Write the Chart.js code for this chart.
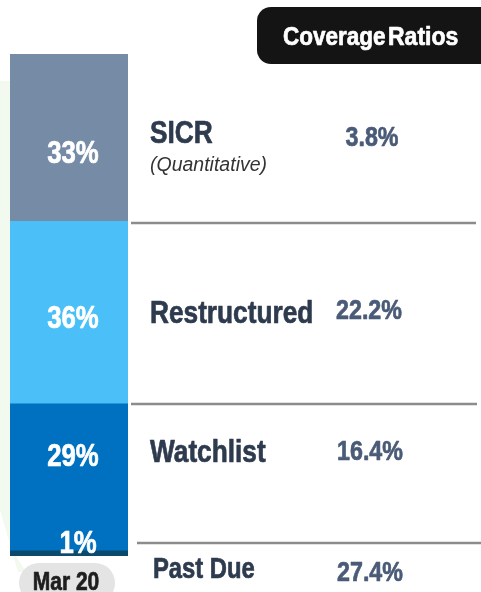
<!DOCTYPE html>
<html>
<head>
<meta charset="utf-8">
<script src="https://cdn.jsdelivr.net/npm/chart.js@4.4.0/dist/chart.umd.min.js"></script>
<style>
  html, body { margin: 0; padding: 0; background: #fff; }
</style>
</head>
<body>
<canvas id="coverageChart" width="481" height="592"></canvas>
<script>
// data, bottom of the stack first
const period = ['Mar 20'];
const buckets = ['Past Due', 'Watchlist', 'Restructured', 'SICR'];
const shares = [1, 29, 36, 33];
const coverage = [27.4, 16.4, 22.2, 3.8];
const bucketColors = ['#0b4a6c', '#0070c0', '#4bc0f8', '#768ba6'];

const FONT = '"Liberation Sans", Arial, sans-serif';

// draw condensed text (looks like Arial Narrow), a thin stroke makes it heavier
function narrowText(ctx, str, x, y, size, color, align, sx, style, weight) {
  ctx.save();
  ctx.font = (style || 'bold') + ' ' + size + 'px ' + FONT;
  ctx.fillStyle = color;
  ctx.strokeStyle = color;
  ctx.lineWidth = weight === undefined ? 0.7 : weight;
  ctx.lineJoin = 'round';
  ctx.textBaseline = 'alphabetic';
  ctx.translate(x, y);
  ctx.scale(sx, 1);
  ctx.textAlign = align;
  ctx.fillText(str, 0, 0);
  if (weight !== 0) ctx.strokeText(str, 0, 0);
  ctx.restore();
}

function roundRect(ctx, x, y, w, h, r, color) {
  ctx.save();
  ctx.beginPath();
  ctx.roundRect(x, y, w, h, r);
  ctx.fillStyle = color;
  ctx.fill();
  ctx.restore();
}

const decorations = {
  id: 'decorations',
  beforeDraw(chart) {
    const ctx = chart.ctx;
    // faint green shape behind the bar
    ctx.save();
    ctx.fillStyle = '#f2f9ee';
    ctx.beginPath();
    ctx.moveTo(0, 81);
    ctx.lineTo(12, 81);
    ctx.lineTo(12, 550);
    ctx.lineTo(26, 572);
    ctx.lineTo(18, 572);
    ctx.lineTo(0, 510);
    ctx.closePath();
    ctx.fill();
    ctx.restore();
  },
  afterDraw(chart) {
    const ctx = chart.ctx;

    // percent labels inside the bar
    const pctY = [553, 466, 328, 163];
    const pctDx = [9, 4, 4, 4];
    chart.data.datasets.forEach((ds, i) => {
      const bar = chart.getDatasetMeta(i).data[0];
      narrowText(ctx, ds.data[0] + '%', bar.x + pctDx[i], pctY[i], 31, '#ffffff', 'center', 0.83);
    });

    // separator lines
    ctx.save();
    ctx.strokeStyle = '#8c8c8c';
    ctx.lineWidth = 2.5;
    [[131, 476, 223], [131, 477, 404], [137, 481, 543]].forEach(l => {
      ctx.beginPath();
      ctx.moveTo(l[0], l[2]);
      ctx.lineTo(l[1], l[2]);
      ctx.stroke();
    });
    ctx.restore();

    // bucket names and coverage ratios
    const nameY = [578, 462, 323, 143];
    const nameX = [153, 150, 150, 150];
    const nameSize = [29, 32, 32, 32];
    const valY = [581, 460, 319, 146];
    const valX = [370, 370, 369, 372];
    buckets.forEach((b, i) => {
      narrowText(ctx, b, nameX[i], nameY[i], nameSize[i], '#2e3b4e', 'left', 0.82);
      narrowText(ctx, coverage[i].toFixed(1) + '%', valX[i], valY[i], 28, '#4a5b78', 'center', 0.83);
    });
    narrowText(ctx, '(Quantitative)', 150, 171, 19.5, '#333333', 'left', 1, 'italic', 0);

    // period pill under the bar
    const bar0 = chart.getDatasetMeta(0).data[0];
    roundRect(ctx, 19, 563, 96, 40, 20, '#e4e4e4');
    narrowText(ctx, chart.data.labels[0], bar0.x - 3, 590, 25, '#1e1e1e', 'center', 0.84);

    // title box
    roundRect(ctx, 257, 7, 240, 57, 14, '#141414');
    narrowText(ctx, 'Coverage', 283, 45, 25, '#ffffff', 'left', 0.9);
    narrowText(ctx, 'Ratios', 388, 45, 25, '#ffffff', 'left', 0.92);
  }
};

new Chart(document.getElementById('coverageChart'), {
  type: 'bar',
  data: {
    labels: period,
    datasets: buckets.map((b, i) => ({
      label: b,
      data: [shares[i]],
      backgroundColor: bucketColors[i],
      borderWidth: 0,
      barPercentage: 1,
      categoryPercentage: 1
    }))
  },
  options: {
    responsive: false,
    devicePixelRatio: 1,
    animation: false,
    layout: { padding: { left: 10, right: 353, top: 54, bottom: 36 } },
    scales: {
      x: { stacked: true, display: false },
      y: { stacked: true, display: false, min: 0, max: 99 }
    },
    plugins: {
      legend: { display: false },
      tooltip: { enabled: false }
    }
  },
  plugins: [decorations]
});
</script>
</body>
</html>
